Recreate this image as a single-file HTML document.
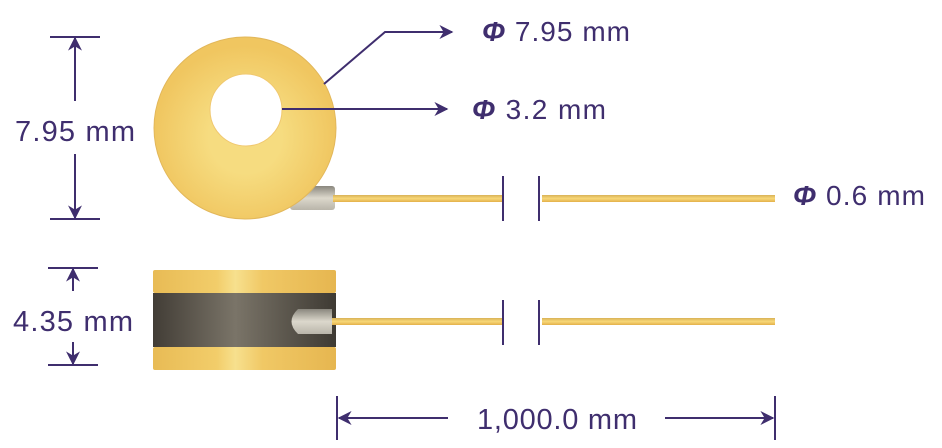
<!DOCTYPE html>
<html><head><meta charset="utf-8"><style>
html,body{margin:0;padding:0;background:#fff}
svg{display:block}
text{font-family:"Liberation Sans",sans-serif;fill:#3f2e6e}
</style></head><body>
<svg width="942" height="448" viewBox="0 0 942 448" xmlns="http://www.w3.org/2000/svg">
<defs>
<marker id="a" viewBox="0 0 10 10" refX="9" refY="5" markerWidth="14" markerHeight="14" markerUnits="userSpaceOnUse" orient="auto-start-reverse"><path d="M0,0 L10,5 L0,10 L3,5 z" fill="#3f2e6e"/></marker>
<radialGradient id="g1" cx="50%" cy="55%" r="50%"><stop offset="0.4" stop-color="#f6dc80"/><stop offset="1" stop-color="#f0c660"/></radialGradient>
<linearGradient id="band" x1="0" x2="1"><stop offset="0" stop-color="#e8bb55"/><stop offset="0.35" stop-color="#f2cd6a"/><stop offset="0.45" stop-color="#f7e08e"/><stop offset="0.6" stop-color="#f0c865"/><stop offset="1" stop-color="#e6b650"/></linearGradient>
<linearGradient id="dark" x1="0" x2="1"><stop offset="0" stop-color="#423d36"/><stop offset="0.45" stop-color="#7a7468"/><stop offset="1" stop-color="#3e3a33"/></linearGradient>
<linearGradient id="wire" x1="0" y1="0" x2="0" y2="1"><stop offset="0" stop-color="#d8b256"/><stop offset="0.5" stop-color="#f8d878"/><stop offset="1" stop-color="#e3b04a"/></linearGradient>
<linearGradient id="cap" x1="0" y1="0" x2="0" y2="1"><stop offset="0" stop-color="#8a877e"/><stop offset="0.5" stop-color="#dcd8cc"/><stop offset="1" stop-color="#b9b5aa"/></linearGradient>
</defs>
<g stroke="#3f2e6e" stroke-width="2" fill="none">
<line x1="50" y1="37" x2="100" y2="37"/><line x1="50" y1="219" x2="100" y2="219"/>
<line x1="75" y1="101" x2="75" y2="38" marker-end="url(#a)"/><line x1="75" y1="154" x2="75" y2="218" marker-end="url(#a)"/>
<line x1="48" y1="268" x2="98" y2="268"/><line x1="48" y1="365" x2="98" y2="365"/>
<line x1="73" y1="291" x2="73" y2="269" marker-end="url(#a)"/><line x1="73" y1="342" x2="73" y2="364" marker-end="url(#a)"/>
</g>
<text x="75" y="141" font-size="29" text-anchor="middle" textLength="120">7.95 mm</text>
<text x="73" y="331" font-size="29" text-anchor="middle" textLength="120">4.35 mm</text>
<rect x="290" y="186" width="45" height="24" rx="3" fill="url(#cap)"/>
<circle cx="245" cy="128" r="91" fill="url(#g1)" stroke="#e2b75a" stroke-width="1"/>
<circle cx="246" cy="110" r="36" fill="#fff" stroke="#f0c870" stroke-width="1"/>
<rect x="333" y="195" width="169" height="7" fill="url(#wire)"/>
<rect x="542" y="195" width="233" height="7" fill="url(#wire)"/>
<g stroke="#3f2e6e" stroke-width="2" fill="none">
<polyline points="324,84 385,32 452,32" marker-end="url(#a)"/>
<line x1="282" y1="109" x2="447" y2="109" marker-end="url(#a)"/>
<line x1="503" y1="176" x2="503" y2="221"/><line x1="539" y1="176" x2="539" y2="221"/>
<line x1="503" y1="300" x2="503" y2="345"/><line x1="539" y1="300" x2="539" y2="345"/>
<line x1="337" y1="396" x2="337" y2="440"/><line x1="775" y1="396" x2="775" y2="440"/>
<line x1="448" y1="418" x2="339" y2="418" marker-end="url(#a)"/>
<line x1="665" y1="418" x2="773" y2="418" marker-end="url(#a)"/>
</g>
<text x="482" y="41" font-size="28" textLength="148"><tspan font-weight="bold" font-style="italic">Φ</tspan> 7.95 mm</text>
<text x="472" y="119" font-size="28" textLength="134"><tspan font-weight="bold" font-style="italic">Φ</tspan> 3.2 mm</text>
<text x="793" y="205" font-size="28" textLength="132"><tspan font-weight="bold" font-style="italic">Φ</tspan> 0.6 mm</text>
<text x="477" y="429" font-size="29" textLength="160">1,000.0 mm</text>
<rect x="153" y="270" width="183" height="23" rx="2" fill="url(#band)"/>
<rect x="153" y="293" width="183" height="54" fill="url(#dark)"/>
<rect x="153" y="347" width="183" height="23" rx="2" fill="url(#band)"/>
<path d="M298,309 L332,309 L332,334 L298,334 Q285,321.5 298,309 z" fill="url(#cap)"/>
<rect x="332" y="318" width="170" height="7" fill="url(#wire)"/>
<rect x="542" y="318" width="233" height="7" fill="url(#wire)"/>
</svg>
</body></html>
